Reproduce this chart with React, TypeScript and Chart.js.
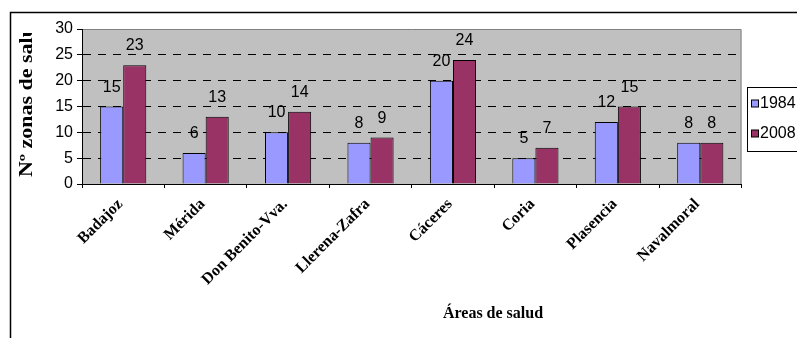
import React, { useEffect, useRef } from "react";
import { Chart, registerables } from "chart.js";

Chart.register(...registerables);

const categories = ["Badajoz", "Mérida", "Don Benito-Vva.", "Llerena-Zafra", "Cáceres", "Coria", "Plasencia", "Navalmoral"];
const series1984 = [15, 6, 10, 8, 20, 5, 12, 8];
const series2008 = [23, 13, 14, 9, 24, 7, 15, 8];
const seriesLabels = ["1984", "2008"];
const yTitle = "Nº zonas de salud";
const xTitle = "Áreas de salud";

const COLORS = ["#9999FF", "#993366"];
const SANS = "'Liberation Sans', Arial, sans-serif";
const SERIF = "'Liberation Serif', 'Times New Roman', serif";

const decorPlugin = {
  id: "decor",
  beforeDraw(chart: any) {
    const { ctx, chartArea: a } = chart;
    ctx.save();
    ctx.fillStyle = "#C0C0C0";
    ctx.fillRect(a.left, a.top, a.right - a.left, a.bottom - a.top);
    ctx.strokeStyle = "#808080";
    ctx.lineWidth = 1;
    ctx.beginPath();
    ctx.moveTo(a.left, a.top + 0.5);
    ctx.lineTo(a.right - 0.5, a.top + 0.5);
    ctx.lineTo(a.right - 0.5, a.bottom);
    ctx.stroke();
    ctx.restore();
  },
  afterDatasetsDraw(chart: any) {
    const { ctx } = chart;
    ctx.save();
    ctx.fillStyle = "#000";
    ctx.font = `16px ${SANS}`;
    ctx.textAlign = "center";
    ctx.textBaseline = "alphabetic";
    chart.data.datasets.forEach((ds: any, di: number) => {
      const meta = chart.getDatasetMeta(di);
      meta.data.forEach((el: any, i: number) => {
        ctx.fillText(String(ds.data[i]), el.x, el.y - 15);
      });
    });
    ctx.restore();
  },
  afterDraw(chart: any) {
    const { ctx } = chart;
    ctx.save();
    // outer frame
    ctx.strokeStyle = "#000";
    ctx.lineWidth = 1.5;
    ctx.beginPath();
    ctx.moveTo(10.5, 338);
    ctx.lineTo(10.5, 12.5);
    ctx.lineTo(797, 12.5);
    ctx.stroke();

    // y title (clipped)
    ctx.save();
    ctx.beginPath();
    ctx.rect(0, 33, 80, 305);
    ctx.clip();
    ctx.translate(27, 177);
    ctx.rotate(-Math.PI / 2);
    ctx.scale(1.22, 1);
    ctx.fillStyle = "#000";
    ctx.font = `bold 18px ${SERIF}`;
    ctx.textAlign = "left";
    ctx.textBaseline = "middle";
    ctx.fillText(yTitle, 0, 0);
    ctx.restore();

    // x title
    ctx.fillStyle = "#000";
    ctx.font = `bold 16px ${SERIF}`;
    ctx.textAlign = "center";
    ctx.textBaseline = "middle";
    ctx.fillText(xTitle, 493, 314);

    // legend
    ctx.fillStyle = "#fff";
    ctx.fillRect(747.5, 87.5, 60, 64);
    ctx.strokeStyle = "#000";
    ctx.lineWidth = 1;
    ctx.strokeRect(747.5, 87.5, 60, 64);
    const ys = [104, 134];
    seriesLabels.forEach((lab, i) => {
      ctx.fillStyle = COLORS[i];
      ctx.fillRect(751.5, ys[i] - 4, 7, 7);
      ctx.strokeStyle = "#000";
      ctx.strokeRect(751.5, ys[i] - 4, 7, 7);
      ctx.fillStyle = "#000";
      ctx.font = `16px ${SANS}`;
      ctx.textAlign = "left";
      ctx.textBaseline = "middle";
      ctx.fillText(lab, 760, ys[i]);
    });
    ctx.restore();
  },
};

export default function App() {
  const ref = useRef<HTMLCanvasElement>(null);
  useEffect(() => {
    if (!ref.current) return;
    const chart = new Chart(ref.current, {
      type: "bar",
      data: {
        labels: categories,
        datasets: [
          { label: seriesLabels[0], data: series1984, backgroundColor: COLORS[0], borderColor: "#000", borderWidth: 1, categoryPercentage: 0.56, barPercentage: 1 },
          { label: seriesLabels[1], data: series2008, backgroundColor: COLORS[1], borderColor: "#000", borderWidth: 1, categoryPercentage: 0.56, barPercentage: 1 },
        ],
      },
      options: {
        responsive: false,
        animation: false,
        layout: { padding: { left: 0, top: 29, right: 55.5, bottom: 0 } },
        plugins: { legend: { display: false }, tooltip: { enabled: false } },
        scales: {
          x: {
            afterFit: (s: any) => { s.height = 154; },
            grid: { drawOnChartArea: false, drawTicks: true, tickLength: 4, tickColor: "#000", offset: true },
            border: { display: true, color: "#000", width: 1 },
            ticks: {
              color: "#000",
              font: { family: SERIF, size: 16, weight: "bold" },
              minRotation: 45,
              maxRotation: 45,
              autoSkip: false,
              padding: 7,
              labelOffset: -3,
            },
          },
          y: {
            min: 0,
            max: 30,
            afterFit: (s: any) => { s.width = 82; },
            grid: {
              color: (c: any) => (c.tick && (c.tick.value === 0 || c.tick.value === 30) ? "rgba(0,0,0,0)" : "#000"),
              tickColor: "#000",
              tickLength: 5,
              lineWidth: 1,
            },
            border: { display: true, color: "#000", width: 1, dash: [8, 7] },
            ticks: { stepSize: 5, color: "#000", font: { family: SANS, size: 16 }, padding: 4 },
          },
        },
      },
      plugins: [decorPlugin],
    });
    return () => chart.destroy();
  }, []);
  return (
    <div style={{ position: "fixed", left: 0, top: 0, width: 797, height: 338, background: "#fff" }}>
      <canvas ref={ref} width={797} height={338} style={{ width: 797, height: 338, display: "block" }} />
    </div>
  );
}
